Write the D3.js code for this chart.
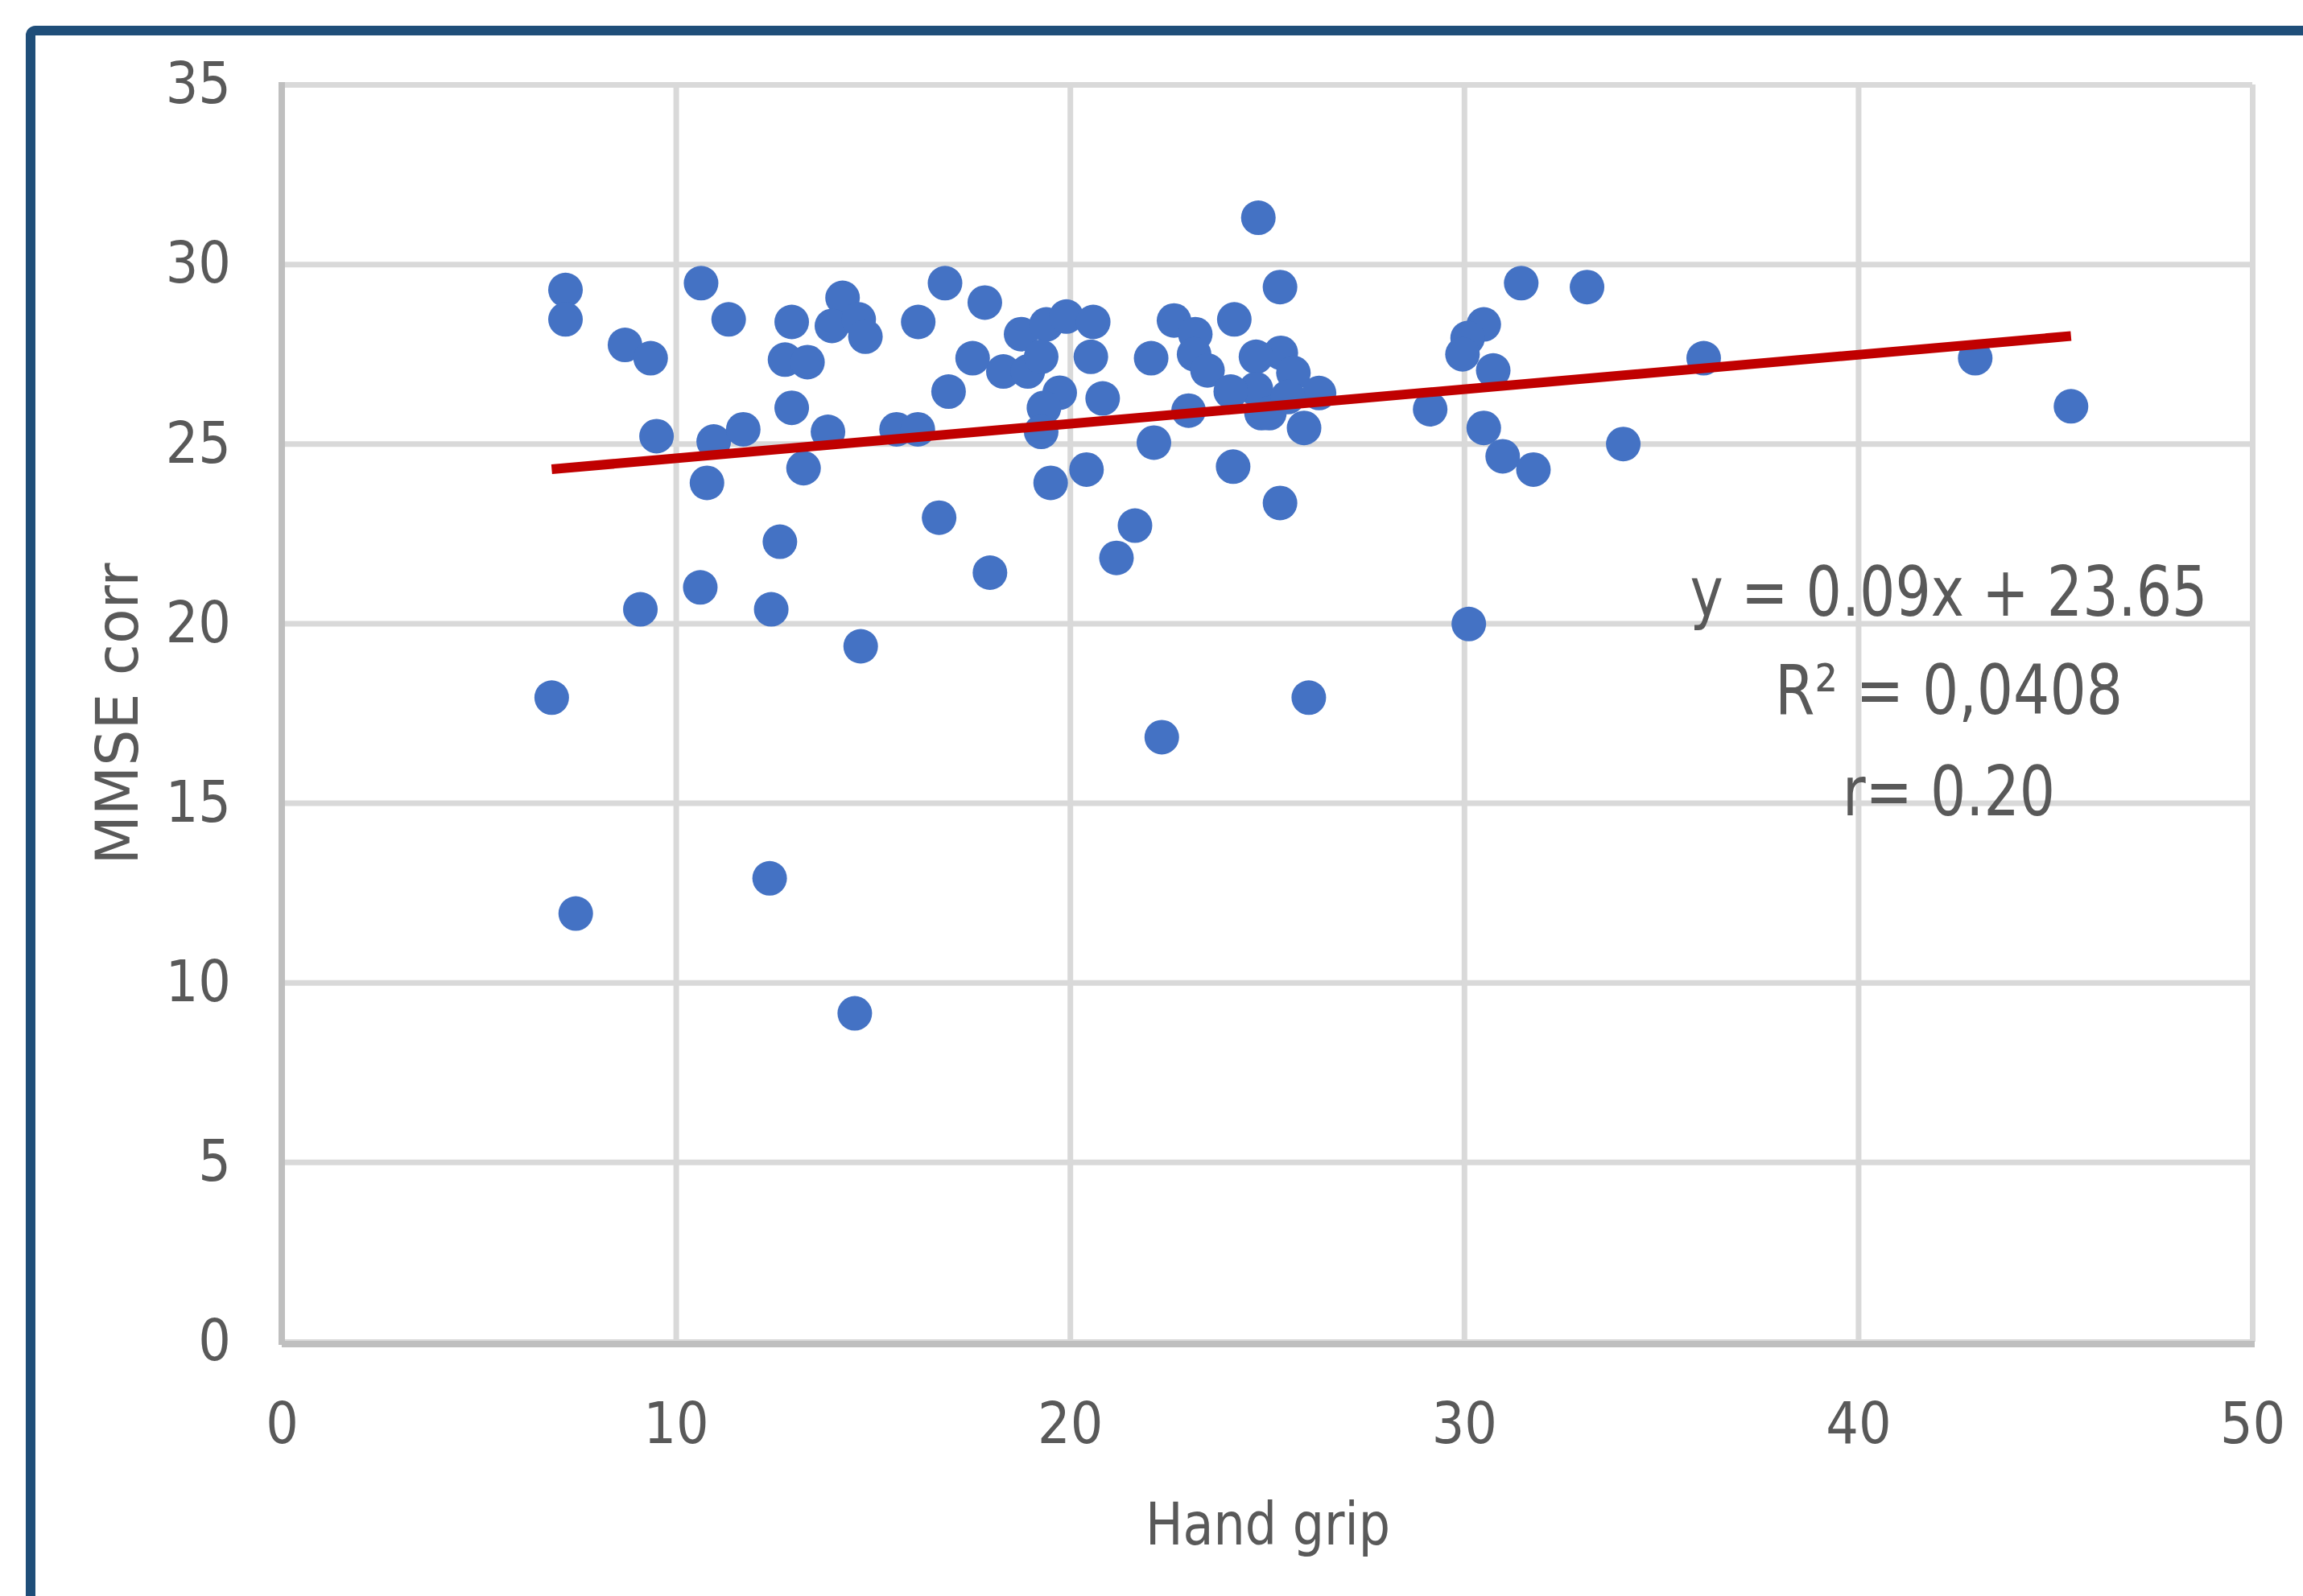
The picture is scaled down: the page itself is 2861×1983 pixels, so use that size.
<!DOCTYPE html>
<html>
<head>
<meta charset="utf-8">
<script src="https://cdn.jsdelivr.net/npm/d3@7"></script>
<style>
  body { margin: 0; background: #fff; }
  svg { display: block; }
  .tick text { font-family: "Liberation Sans Narrow", "DejaVu Sans Condensed", "Liberation Sans", sans-serif; fill: #595959; }
  .lbl { font-family: "Liberation Sans Narrow", "DejaVu Sans Condensed", "Liberation Sans", sans-serif; fill: #595959; }
</style>
</head>
<body>
<div id="chart"></div>
<script>
// hand grip (x) vs MMSE corr (y)
var handGrip = [7.20,7.20,8.71,9.36,10.64,11.34,12.94,14.23,13.96,14.64,14.81,16.15,12.77,13.34,12.94,9.51,10.96,11.71,13.86,15.60,16.14,10.79,13.24,12.64,
  16.83,17.84,17.53,16.92,18.76,19.40,19.91,20.59,20.53,18.31,18.93,19.27,19.74,19.34,19.27,20.83,19.51,20.42,16.68,21.65,22.06,22.13,22.64,23.18,23.15,23.49,24.17,23.01,24.14,25.33,25.33,24.78,25.35,24.72,25.67,26.32,24.86,25.94,24.72,25.06,24.08,25.53,
  29.14,31.45,33.12,30.50,30.09,29.96,30.74,30.50,30.98,31.76,34.04,
  6.85,7.46,9.10,10.62,12.42,12.38,14.54,14.69,17.97,21.18,22.33,26.06,30.12,36.08,42.97,45.40];
var mmse = [29.28,28.46,27.75,27.38,29.47,28.46,28.39,29.06,28.28,28.46,27.98,28.39,27.34,27.27,26.00,25.21,25.06,25.40,25.33,25.40,25.40,23.91,24.32,22.27,
  29.47,28.93,27.38,26.45,28.05,28.32,28.54,28.39,27.42,27.01,27.01,27.42,26.42,26.00,25.33,26.26,23.91,24.28,22.94,22.72,27.38,25.03,28.43,28.05,27.49,27.04,28.46,25.92,24.36,23.35,29.36,31.29,27.53,27.42,26.97,26.41,25.85,25.44,26.52,25.85,26.45,26.30,
  25.96,29.47,29.36,28.32,27.94,27.49,27.04,25.44,24.65,24.28,24.99,
  17.93,11.92,20.39,21.00,20.39,12.90,9.14,19.36,21.41,21.82,16.83,17.93,19.98,27.38,27.38,26.04];

var xTicks = [0, 10, 20, 30, 40, 50];
var yTicks = [0, 5, 10, 15, 20, 25, 30, 35];

// trendline as drawn in the picture
var trendSlope = 0.0962, trendIntercept = 23.63;
var eqLines = ["y = 0.09x + 23.65", "R\u00b2 = 0,0408", "r= 0.20"];

var W = 2861, H = 1983,
    plotL = 350, plotR = 2798, plotT = 105, plotB = 1667;

var svg = d3.select('#chart').append('svg')
    .attr('width', W)
    .attr('height', H);

svg.append('rect').attr('width', W).attr('height', H).attr('fill', '#fff');

var x = d3.scaleLinear().domain([0, 50]).range([plotL, plotR]);
var y = d3.scaleLinear().domain([0, 35]).range([plotB, plotT]);

// gridlines
svg.append('g')
    .attr('transform', 'translate(' + plotL + ',0)')
    .call(d3.axisLeft(y).tickValues(yTicks).tickSize(-(plotR - plotL)).tickFormat(''))
    .call(function (g) { g.select('.domain').remove(); })
    .selectAll('line').attr('stroke', '#D9D9D9').attr('stroke-width', 7);
svg.append('g')
    .attr('transform', 'translate(0,' + plotB + ')')
    .call(d3.axisBottom(x).tickValues(xTicks).tickSize(-(plotB - plotT)).tickFormat(''))
    .call(function (g) { g.select('.domain').remove(); })
    .selectAll('line').attr('stroke', '#D9D9D9').attr('stroke-width', 7);

// axis lines
svg.append('line').attr('x1', plotL).attr('x2', plotL).attr('y1', plotT - 3).attr('y2', plotB + 4)
    .attr('stroke', '#BFBFBF').attr('stroke-width', 8);
svg.append('line').attr('x1', plotL).attr('x2', plotR + 3).attr('y1', plotB + 3).attr('y2', plotB + 3)
    .attr('stroke', '#BFBFBF').attr('stroke-width', 8);

// tick labels
var yAx = svg.append('g')
    .attr('transform', 'translate(' + plotL + ',0)')
    .call(d3.axisLeft(y).tickValues(yTicks).tickSize(0).tickPadding(63));
yAx.select('.domain').remove();
yAx.selectAll('text').style('font-size', '71px');

var xAx = svg.append('g')
    .attr('transform', 'translate(0,' + plotB + ')')
    .call(d3.axisBottom(x).tickValues(xTicks).tickSize(0).tickPadding(76));
xAx.select('.domain').remove();
xAx.selectAll('text').style('font-size', '71px');

// points
var pts = handGrip.map(function (d, i) { return [d, mmse[i]]; });
svg.append('g').selectAll('circle').data(pts).enter()
    .append('circle')
    .attr('cx', function (d) { return x(d[0]); })
    .attr('cy', function (d) { return y(d[1]); })
    .attr('r', 21.5)
    .attr('fill', '#4472C4');

// trendline over the x range of the data
var ext = d3.extent(handGrip);
svg.append('path')
    .datum(ext.map(function (v) { return [v, trendIntercept + trendSlope * v]; }))
    .attr('d', d3.line().x(function (d) { return x(d[0]); }).y(function (d) { return y(d[1]); }))
    .attr('stroke', '#C00000')
    .attr('stroke-width', 12)
    .attr('fill', 'none');

// equation block
var eqY = [765, 887, 1013], eqW = [643, 432, 264];
svg.append('g').selectAll('text').data(eqLines).enter()
    .append('text')
    .attr('class', 'lbl')
    .attr('x', 2421)
    .attr('y', function (d, i) { return eqY[i]; })
    .attr('text-anchor', 'middle')
    .attr('textLength', function (d, i) { return eqW[i]; })
    .attr('lengthAdjust', 'spacingAndGlyphs')
    .style('font-size', '86px')
    .text(function (d) { return d; });

// axis titles
svg.append('text').attr('class', 'lbl')
    .attr('x', 1575).attr('y', 1919)
    .attr('text-anchor', 'middle')
    .attr('textLength', 304).attr('lengthAdjust', 'spacingAndGlyphs')
    .style('font-size', '73px')
    .text('Hand grip');

svg.append('text').attr('class', 'lbl')
    .attr('transform', 'translate(171,887) rotate(-90)')
    .attr('text-anchor', 'middle')
    .attr('textLength', 375).attr('lengthAdjust', 'spacingAndGlyphs')
    .style('font-size', '73px')
    .text('MMSE corr');

// dark blue frame, runs off the right and bottom edges
svg.append('rect')
    .attr('x', 38).attr('y', 38)
    .attr('width', W + 100).attr('height', H + 100)
    .attr('rx', 6)
    .attr('fill', 'none')
    .attr('stroke', '#1F4E79')
    .attr('stroke-width', 12);
</script>
</body>
</html>
